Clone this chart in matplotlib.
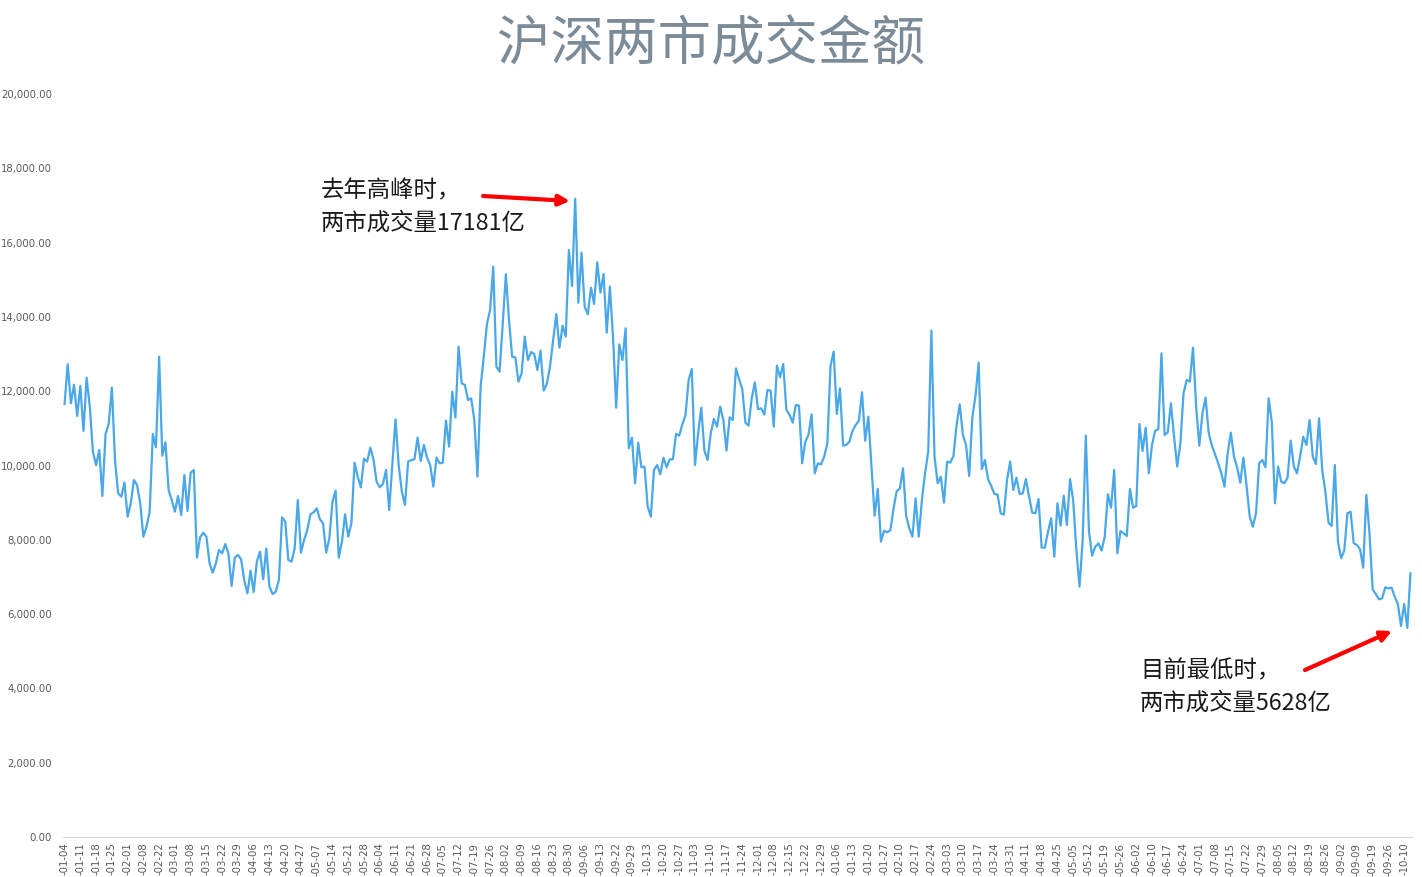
import matplotlib
matplotlib.use('Agg')
import matplotlib.pyplot as plt
import numpy as np
import pandas as pd

plt.rcParams['font.family'] = ['Noto Sans CJK SC', 'DejaVu Sans']

# 交易日: 工作日去掉节假日
start_date = '2021-01-04'
end_date = '2022-10-12'
holidays = [
    '2021-01-01', '2021-02-11', '2021-02-12', '2021-02-15', '2021-02-16', '2021-02-17',
    '2021-04-05', '2021-05-03', '2021-05-04', '2021-05-05', '2021-06-14',
    '2021-09-20', '2021-09-21', '2021-10-01', '2021-10-04', '2021-10-05', '2021-10-06', '2021-10-07',
    '2022-01-03', '2022-01-31', '2022-02-01', '2022-02-02', '2022-02-03', '2022-02-04',
    '2022-04-04', '2022-04-05', '2022-05-02', '2022-05-03', '2022-05-04', '2022-06-03',
    '2022-09-12', '2022-10-03', '2022-10-04', '2022-10-05', '2022-10-06', '2022-10-07',
]

# 两市成交额 (亿元), 2021 年
turnover_2021 = [
    11656, 12725, 11675, 12176, 11333, 12141, 10930, 12365, 11584, 10373,
    10006, 10418, 9180, 10849, 11118, 12096, 10149, 9252, 9161, 9538,
    8623, 8983, 9610, 9476, 8983, 8084, 8353, 8757, 10849, 10490,
    12930, 10265, 10625, 9341, 9072, 8757, 9180, 8668, 9745, 8776,
    9808, 9880, 7519, 8066, 8192, 8084, 7368, 7115, 7368, 7726,
    7637, 7888, 7618, 6757, 7519, 7591, 7475, 6918, 6560, 7169,
    6595, 7411, 7680, 6936, 7766, 6738, 6541, 6604, 6918, 8606,
    8489, 7457, 7411, 7771, 9072, 7655, 7995, 8264, 8687, 8740,
    8848, 8553, 8445, 7655, 8040, 9027, 9323, 7519, 7950, 8687,
    8084, 8445, 10077, 9700, 9413, 10185, 10104, 10481, 10167, 9565,
    9413, 9503, 9880, 8803, 10050, 11245, 10014, 9296, 8938, 10104,
    10149, 10167, 10750, 10122, 10553, 10212, 10014, 9430, 10212, 10059,
    10077, 11208, 10508, 11989, 11289, 13199, 12212, 12168, 11764, 11809,
    11226, 9700, 12141, 12930, 13810, 14187, 15353, 12660, 12526, 13800,
    15150, 13918, 12930, 12912, 12256, 12481, 13468, 12840, 13056, 13002,
    12571, 13092, 12016, 12195, 12660, 13378, 14079, 13172, 13765, 13468,
    15802, 14833, 17181, 14384, 15730, 14276, 14070, 14788, 14348, 15471,
    14653, 15156, 13576, 14815, 13468, 11557, 13263, 12840, 13693, 10463,
    10750, 9521, 10615, 9952, 9970, 8893, 8623, 9880, 10014, 9763,
    10212, 9952, 10167, 10167, 10849, 10804, 11109, 11360, 12302, 12598,
    10014, 10867, 11557, 10400, 10149, 10867, 11252, 11046, 11584, 11226,
    10400, 11298, 11226, 12616, 12320, 12060, 11154, 11073, 11809, 12240,
    11514, 11540, 11369, 12033, 12016, 11046, 12687, 12375, 12733, 11495,
    11369, 11154, 11630, 11612, 10059, 10642, 10822, 11378, 9790, 10059,
    10032, 10239, 10598,
]

# 2022 年
turnover_2022 = [
    12679, 13065, 11387, 12078, 10535, 10553, 10642, 10938, 11091, 11208,
    11971, 10669, 11316, 9988, 8650, 9368, 7950, 8246, 8201, 8264,
    8848, 9314, 9377, 9925, 8650, 8311, 8084, 9117, 8084, 9072,
    9790, 10373, 13630, 10239, 9521, 9700, 9001, 10104, 10077, 10257,
    11091, 11647, 10822, 10553, 9718, 11298, 11872, 12768, 9907, 10149,
    9629, 9449, 9234, 9215, 8714, 8677, 9610, 10104, 9341, 9673,
    9234, 9252, 9637, 9161, 8731, 8714, 9099, 7789, 7789, 8219,
    8580, 7546, 8983, 8381, 9188, 8400, 9637, 9054, 7726, 6738,
    7995, 10804, 8219, 7573, 7815, 7906, 7708, 8084, 9225, 8866,
    9880, 7637, 8237, 8175, 8103, 9368, 8866, 8911, 11118, 10391,
    11019, 9790, 10553, 10938, 10983, 13020, 10822, 10894, 11675, 10777,
    9970, 10600, 11943, 12302, 12256, 13172, 11584, 10535, 11405, 11827,
    10867, 10535, 10302, 10059, 9790, 9430, 10328, 10885, 10239, 9952,
    9538, 10212, 9449, 8623, 8353, 8714, 10059, 10149, 9952, 11809,
    11181, 8983, 9970, 9565, 9521, 9673, 10669, 9970, 9790, 10257,
    10777, 10553, 11226, 10239, 10041, 11271, 9880, 9296, 8461, 8372,
    10014, 7950, 7502, 7708, 8714, 8757, 7906, 7861, 7745, 7250,
    9207, 8175, 6668, 6541, 6398, 6425, 6721, 6694, 6712, 6470,
    6272, 5680, 6272, 5628, 7099,
]

dates = pd.bdate_range(start_date, end_date, freq='C', holidays=holidays)
values = turnover_2021 + turnover_2022
x = np.arange(len(values))

fig = plt.figure(figsize=(14.22, 8.77), dpi=100)
ax = fig.add_axes([0.0443, 0.0456, 0.9487, 0.8472])

ax.plot(x, values, color='#4aa8e8', lw=1.6)

ax.set_xlim(-0.5, len(values) - 0.5)
ax.set_ylim(0, 20000)
ax.set_yticks(np.arange(0, 20001, 2000))
ax.set_yticklabels(['{:,.2f}'.format(v) for v in np.arange(0, 20001, 2000)],
                   fontsize=7.3, color='#595959', family='DejaVu Sans')
tick_pos = x[::5]
ax.set_xticks(tick_pos)
ax.set_xticklabels([dates[i].strftime('-%m-%d') for i in tick_pos],
                   rotation=90, fontsize=7.3, color='#595959', family='DejaVu Sans')
ax.tick_params(axis='both', length=0)
ax.tick_params(axis='y', pad=8)
ax.tick_params(axis='x', pad=4)
for s in ['top', 'right', 'left']:
    ax.spines[s].set_visible(False)
ax.spines['bottom'].set_color('#d9d9d9')

fig.text(0.5, 1 - 45 / 877, '沪深两市成交金额', ha='center', va='center',
         fontsize=38.5, color='#7b8b98')


def px(xp, yp):
    return (xp / 1422, 1 - yp / 877)


fig.text(*px(321, 207), '去年高峰时，\n两市成交量17181亿', ha='left', va='center',
         fontsize=16.8, color='#1a1a1a', linespacing=1.55)
fig.text(*px(1140, 687), '目前最低时，\n两市成交量5628亿', ha='left', va='center',
         fontsize=16.8, color='#1a1a1a', linespacing=1.55)

arrow = dict(arrowstyle='-|>', color='#ff0000', lw=3, mutation_scale=16, shrinkA=0, shrinkB=0)
ax.annotate('', xy=px(570, 201), xycoords='figure fraction',
            xytext=px(483, 196), textcoords='figure fraction', arrowprops=arrow)
ax.annotate('', xy=px(1392, 631), xycoords='figure fraction',
            xytext=px(1305, 670), textcoords='figure fraction', arrowprops=arrow)

fig.savefig('out.png', dpi=100)
